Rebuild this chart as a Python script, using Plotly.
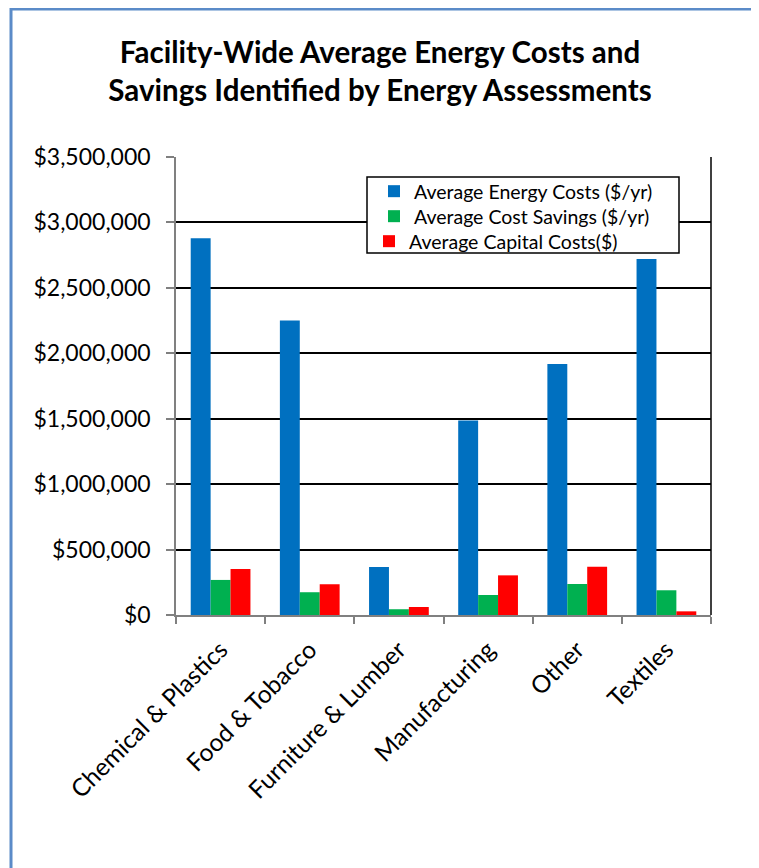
import plotly.graph_objects as go

categories = ["Chemical & Plastics", "Food & Tobacco", "Furniture & Lumber",
              "Manufacturing", "Other", "Textiles"]
energy_costs = [2880000, 2250000, 367000, 1486000, 1919000, 2720000]
cost_savings = [268000, 174000, 44000, 153000, 237000, 189000]
capital_costs = [352000, 235000, 61000, 303000, 369000, 28000]

series_names = ["Average Energy Costs ($/yr)", "Average Cost Savings ($/yr)",
                "Average Capital Costs($)"]
series_colors = ["#0070C0", "#00B050", "#FF0000"]

# page has an 8px body margin; figure coordinates = page coordinates - 8
OFF = 8
W, H = 759 - OFF, 868 - OFF
L, R, T, B = 176 - OFF, 711 - OFF, 157 - OFF, 615 - OFF

font = "Lato, 'Open Sans', sans-serif"

def px_x(p):
    return (p - OFF - L) / (R - L)

def px_y(p):
    return (B - (p - OFF)) / (B - T)

legend_ids = ["legend", "legend2", "legend3"]
legend_rows = [191.5, 216.5, 241.5]
legend_left = [374, 374, 369]

fig = go.Figure()
for name, vals, col, lid in zip(series_names, [energy_costs, cost_savings, capital_costs],
                                series_colors, legend_ids):
    fig.add_trace(go.Bar(x=categories, y=vals, name=name, legend=lid,
                         marker=dict(color=col, line=dict(width=0))))

legends = {}
for lid, row, lx in zip(legend_ids, legend_rows, legend_left):
    legends[lid] = dict(x=px_x(lx), y=px_y(row), xanchor="left", yanchor="middle",
                        bgcolor="rgba(0,0,0,0)", borderwidth=0,
                        font=dict(family=font, size=19.5, color="black"),
                        itemwidth=30)

fig.update_layout(
    width=W, height=H,
    margin=dict(l=L, r=W - R, t=T, b=H - B, autoexpand=False),
    paper_bgcolor="white", plot_bgcolor="white",
    barmode="group", bargap=0.33, bargroupgap=0,
    font=dict(family=font, color="black"),
    title=dict(text="Facility-Wide Average Energy Costs and<br>Savings Identified by Energy Assessments",
               x=(380 - OFF) / W, xref="container", xanchor="center",
               y=1 - 55 / H, yref="container", yanchor="top",
               font=dict(family=font, size=29.5, color="black", weight="bold")),
    showlegend=True,
    **legends,
)

fig.update_yaxes(range=[0, 3500000], dtick=500000, tickformat=",.0f", tickprefix="$",
                 showgrid=True, gridcolor="black", gridwidth=1.5,
                 zeroline=False, showline=True, linecolor="#808080", linewidth=1.5,
                 ticks="outside", ticklen=8, tickcolor="#808080", tickwidth=1.5,
                 ticklabelstandoff=11,
                 tickfont=dict(family=font, size=23, color="black"), fixedrange=True)
fig.update_xaxes(tickangle=-45, tickson="boundaries", ticks="outside", ticklen=7,
                 tickcolor="#808080", tickwidth=1.5, showline=True, linecolor="#808080",
                 linewidth=1.5, showgrid=False, ticklabelstandoff=9,
                 tickfont=dict(family=font, size=24.5, color="black"))

# right border of plot area
fig.add_shape(type="line", xref="paper", yref="paper", x0=1, x1=1, y0=0, y1=1,
              line=dict(color="black", width=1.5))
# legend box
fig.add_shape(type="rect", xref="paper", yref="paper",
              x0=px_x(367), x1=px_x(679), y0=px_y(177), y1=px_y(253),
              fillcolor="white", line=dict(color="black", width=1.5), layer="above")
# outer chart frame
fig.add_shape(type="rect", xref="paper", yref="paper",
              x0=px_x(11), x1=px_x(753), y0=px_y(9), y1=px_y(900),
              line=dict(color="#5B8BC8", width=3), layer="above")

fig.write_html("out.html")
